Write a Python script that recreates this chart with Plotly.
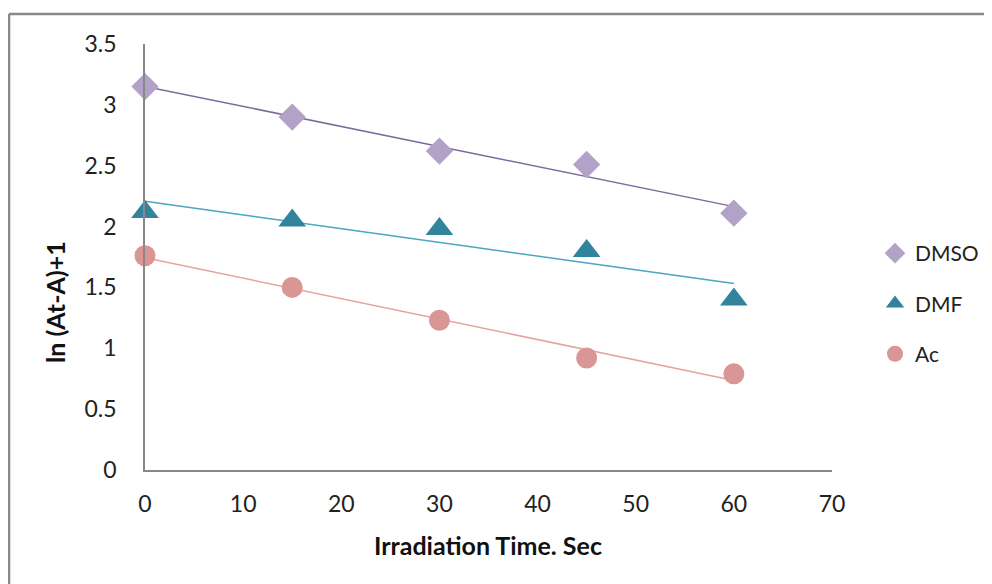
import numpy as np
import plotly.graph_objects as go

time_sec = [0, 15, 30, 45, 60]
dmso = [3.15, 2.90, 2.62, 2.51, 2.11]
dmf = [2.12, 2.05, 1.98, 1.80, 1.40]
ac = [1.76, 1.50, 1.23, 0.92, 0.79]

series_names = ["DMSO", "DMF", "Ac"]
marker_colors = ["#B3A2C7", "#31849B", "#D99694"]
line_colors = ["#7E6B9E", "#4BA6BE", "#E6A3A0"]
symbols = ["diamond", "triangle-up", "circle"]
sizes = [21, 24, 21]

FONT = "Lato"
fig = go.Figure()

for i, (name, vals) in enumerate(zip(series_names, [dmso, dmf, ac])):
    slope, intercept = np.polyfit(time_sec, vals, 1)
    xs = np.array([time_sec[0], time_sec[-1]])
    fig.add_trace(go.Scatter(
        x=xs, y=slope * xs + intercept, mode="lines",
        line=dict(color=line_colors[i], width=1.5),
        showlegend=False, hoverinfo="skip"))

for i, (name, vals) in enumerate(zip(series_names, [dmso, dmf, ac])):
    fig.add_trace(go.Scatter(
        x=time_sec, y=vals, mode="markers", name=name,
        legendgroup=name,
        marker=dict(symbol=symbols[i], size=sizes[i], color=marker_colors[i],
                    line=dict(width=0)),
        cliponaxis=False))

OFF = 8  # page body margin
W, H = 992, 584
# screen-pixel positions of the plot area
SL, SR, ST, SB = 145, 832, 44, 470
L, T = SL - OFF, ST - OFF
pw, ph = SR - SL, SB - ST
R = W - L - pw
B = H - T - ph

def px_x(p):
    return (p - SL) / pw

def px_y(p):
    return (SB - p) / ph

fig.update_layout(
    width=W, height=H,
    margin=dict(l=L, r=R, t=T, b=B),
    paper_bgcolor="white", plot_bgcolor="white",
    font=dict(family=FONT, size=23, color="#222222"),
    showlegend=True,
    legend=dict(x=px_x(875), y=px_y(233), xanchor="left", yanchor="top",
                font=dict(size=21, family=FONT, color="#222222"),
                tracegroupgap=20, traceorder="grouped", itemwidth=30,
                bgcolor="rgba(0,0,0,0)"),
    xaxis=dict(range=[0, 70], dtick=10, tick0=0, showgrid=False, zeroline=False,
               showline=True, linecolor="#888888", linewidth=1.5,
               ticks="", ticklabelstandoff=13,
               tickfont=dict(family=FONT, size=23, color="#222222")),
    yaxis=dict(range=[0, 3.5], dtick=0.5, tick0=0, showgrid=False, zeroline=False,
               showline=True, linecolor="#888888", linewidth=1.5,
               ticks="", ticklabelstandoff=22,
               tickfont=dict(family=FONT, size=23, color="#222222")),
    annotations=[
        dict(text="<b>Irradiation Time. Sec</b>", x=px_x(488), y=px_y(545),
             xref="paper", yref="paper", showarrow=False,
             xanchor="center", yanchor="middle",
             font=dict(family=FONT, size=25, color="#111111")),
        dict(text="<b>ln (At-A)+1</b>", x=px_x(55), y=px_y(302),
             xref="paper", yref="paper", showarrow=False, textangle=-90,
             xanchor="center", yanchor="middle",
             font=dict(family=FONT, size=25, color="#111111")),
    ],
    shapes=[
        dict(type="line", xref="paper", yref="paper",
             x0=px_x(9), x1=px_x(9), y0=px_y(14), y1=px_y(600),
             line=dict(color="#888888", width=2.5)),
        dict(type="line", xref="paper", yref="paper",
             x0=px_x(9), x1=px_x(1000), y0=px_y(14), y1=px_y(14),
             line=dict(color="#888888", width=2.5)),
    ],
)

fig.write_html("out.html")
